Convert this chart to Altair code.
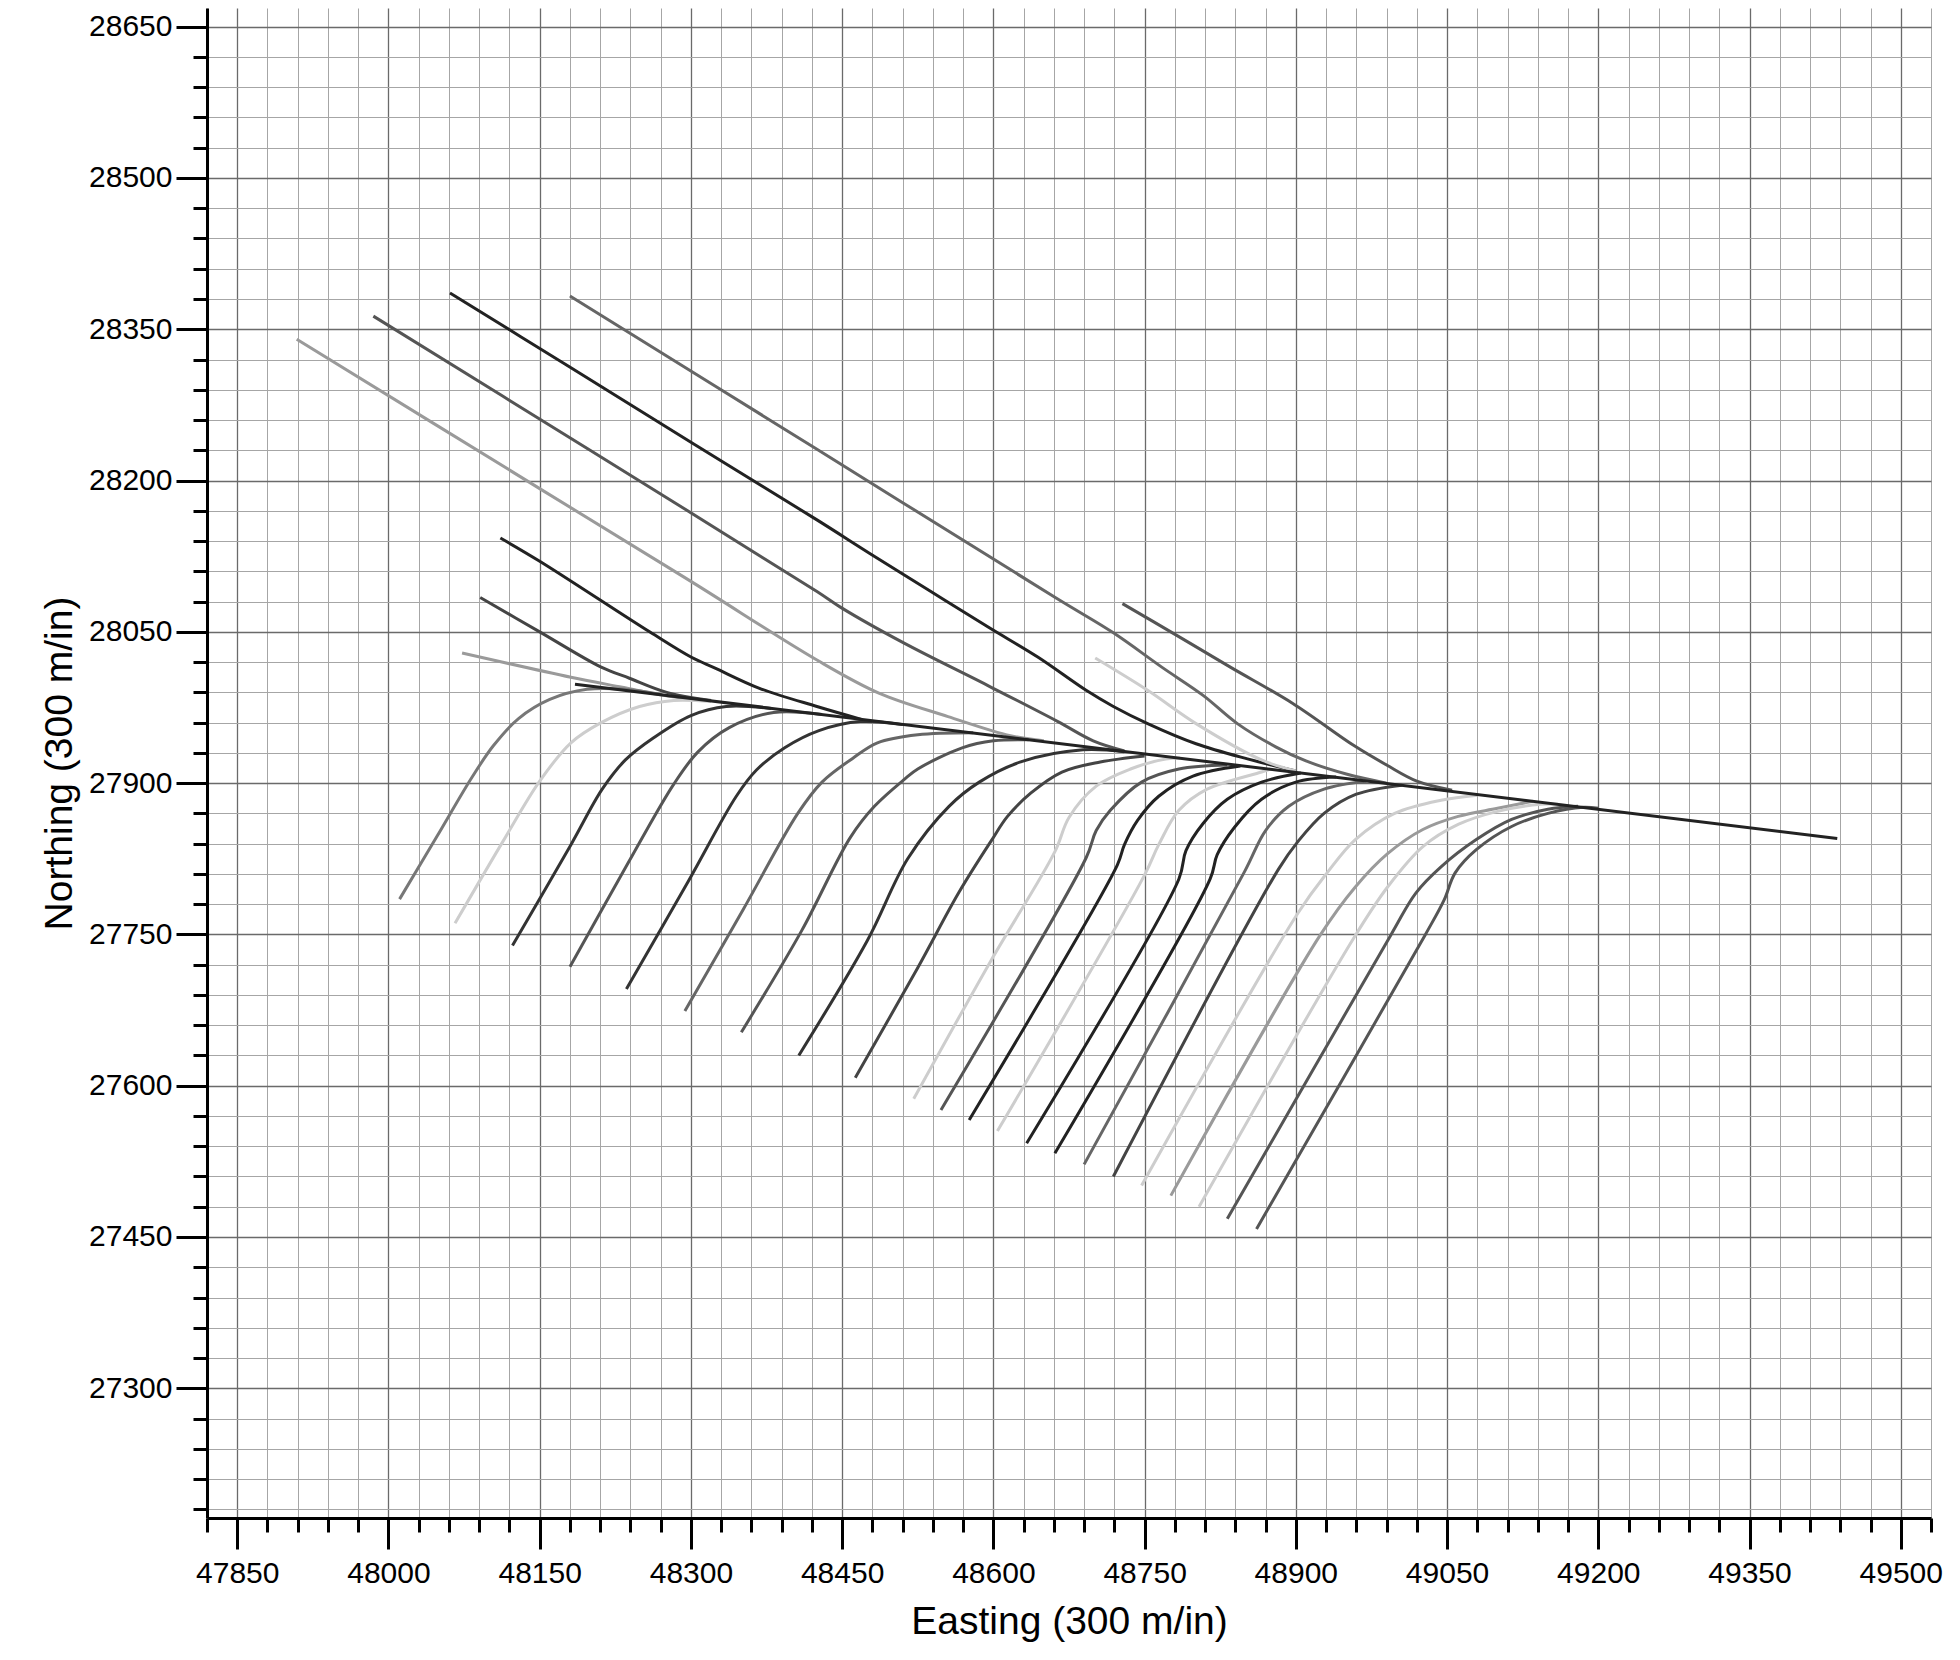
import altair as alt
import pandas as pd

# ---------------- data (Easting, Northing) read from the plan view ----------------
TRUNK = [(48185, 27998), (49437, 27845)]

NW_A = [(47909, 28340), (48150, 28192), (48300, 28100), (48425, 28022), (48487, 27989), (48555, 27966), (48617, 27947), (48650, 27942)]
NW_B = [(47985, 28363), (48200, 28230), (48425, 28090), (48449, 28074), (48511, 28039), (48596, 27996), (48664, 27961), (48699, 27942), (48730, 27932)]
NW_C = [(48061, 28386), (48179, 28313), (48300, 28238), (48425, 28161), (48477, 28128), (48538, 28090), (48596, 28054), (48644, 28025), (48692, 27992), (48719, 27976), (48753, 27959), (48801, 27939), (48852, 27924), (48900, 27912)]
NW_D = [(48180, 28383), (48425, 28231), (48663, 28083), (48719, 28049), (48767, 28015), (48808, 27987), (48842, 27959), (48880, 27936), (48910, 27922), (48950, 27909), (48990, 27900)]
NW_E = [(48728, 28078), (48781, 28047), (48835, 28015), (48897, 27979), (48958, 27937), (48990, 27918), (49020, 27902), (49055, 27893)]
NW_F = [(48701, 28024), (48753, 27992), (48801, 27959), (48866, 27923), (48900, 27912)]
NW_G = [(48111, 28143), (48150, 28120), (48259, 28050), (48300, 28025), (48324, 28014), (48368, 27994), (48425, 27976), (48470, 27963)]
NW_H = [(48091, 28084), (48150, 28050), (48211, 28015), (48239, 28004), (48276, 27990), (48320, 27982)]
NW_I = [(48073, 28029), (48181, 28005), (48232, 27995), (48273, 27987), (48300, 27983)]

SW_01 = [(48011, 27785), (48048, 27847), (48083, 27906), (48104, 27937), (48129, 27964), (48160, 27983), (48197, 27993), (48235, 27993), (48270, 27988)]
SW_02 = [(48066, 27761), (48114, 27843), (48150, 27902), (48181, 27940), (48211, 27960), (48249, 27976), (48283, 27982), (48320, 27981)]
SW_03 = [(48123, 27739), (48181, 27839), (48212, 27894), (48235, 27923), (48263, 27945), (48300, 27967), (48335, 27976), (48380, 27974)]
SW_04 = [(48180, 27718), (48235, 27816), (48283, 27899), (48307, 27931), (48338, 27955), (48382, 27970), (48430, 27968)]
SW_05 = [(48236, 27696), (48297, 27802), (48345, 27887), (48365, 27913), (48393, 27935), (48427, 27952), (48468, 27961), (48510, 27958)]
SW_06 = [(48294, 27674), (48352, 27775), (48406, 27870), (48430, 27901), (48461, 27925), (48485, 27940), (48525, 27948), (48580, 27950)]
SW_07 = [(48350, 27653), (48410, 27754), (48458, 27846), (48482, 27877), (48512, 27904), (48525, 27914), (48569, 27935), (48600, 27942), (48635, 27943)]
SW_08 = [(48407, 27630), (48475, 27744), (48515, 27825), (48556, 27877), (48586, 27901), (48627, 27921), (48689, 27933), (48730, 27931)]
SW_09 = [(48463, 27608), (48525, 27717), (48566, 27792), (48598, 27843), (48614, 27867), (48637, 27890), (48668, 27911), (48706, 27921), (48750, 27927)]
SW_10 = [(48521, 27587), (48597, 27723), (48661, 27832), (48675, 27866), (48702, 27897), (48736, 27914), (48771, 27924), (48785, 27925)]
SW_11 = [(48548, 27576), (48692, 27826), (48702, 27853), (48716, 27873), (48747, 27901), (48784, 27914), (48832, 27918)]
SW_12 = [(48576, 27566), (48723, 27819), (48730, 27839), (48743, 27863), (48764, 27887), (48798, 27907), (48845, 27917)]
SW_13 = [(48604, 27555), (48750, 27809), (48764, 27839), (48784, 27873), (48812, 27894), (48866, 27911), (48875, 27914)]
SW_14 = [(48633, 27543), (48784, 27805), (48791, 27833), (48808, 27860), (48832, 27884), (48866, 27901), (48905, 27910)]
SW_15 = [(48661, 27533), (48815, 27805), (48822, 27829), (48839, 27856), (48866, 27884), (48900, 27901), (48940, 27906)]
SW_16 = [(48690, 27522), (48849, 27812), (48870, 27853), (48893, 27877), (48928, 27894), (48970, 27902)]
SW_17 = [(48719, 27510), (48883, 27815), (48902, 27842), (48928, 27870), (48960, 27889), (49005, 27898)]
SW_18 = [(48747, 27501), (48902, 27771), (48931, 27811), (48959, 27844), (48998, 27870), (49044, 27883), (49080, 27888)]
SW_19 = [(48776, 27491), (48924, 27749), (48959, 27797), (48991, 27830), (49026, 27854), (49061, 27867), (49100, 27875), (49135, 27882)]
SW_20 = [(48804, 27480), (48959, 27749), (48991, 27797), (49026, 27837), (49061, 27859), (49100, 27872), (49143, 27879), (49160, 27879)]
SW_21 = [(48832, 27468), (48994, 27749), (49019, 27791), (49044, 27817), (49079, 27844), (49114, 27864), (49150, 27874), (49180, 27877)]
SW_22 = [(48861, 27458), (49028, 27749), (49047, 27784), (49058, 27811), (49079, 27834), (49114, 27857), (49150, 27870), (49185, 27876), (49200, 27875)]

WELL_NAMES = ["NW-A", "NW-B", "NW-C", "NW-D", "NW-E", "NW-F", "NW-G", "NW-H", "NW-I",
              "SW-01", "SW-02", "SW-03", "SW-04", "SW-05", "SW-06", "SW-07", "SW-08",
              "SW-09", "SW-10", "SW-11", "SW-12", "SW-13", "SW-14", "SW-15", "SW-16",
              "SW-17", "SW-18", "SW-19", "SW-20", "SW-21", "SW-22", "TRUNK"]
WELL_COLORS = ["#9a9a9a", "#555555", "#222222", "#666666", "#555555", "#cdcdcd", "#222222", "#444444", "#9a9a9a",
               "#777777", "#cdcdcd", "#333333", "#555555", "#333333", "#666666", "#555555", "#333333",
               "#444444", "#cdcdcd", "#555555", "#222222", "#cdcdcd", "#222222", "#222222", "#666666",
               "#444444", "#cdcdcd", "#9a9a9a", "#cdcdcd", "#555555", "#555555", "#222222"]
WELL_POINTS = [NW_A, NW_B, NW_C, NW_D, NW_E, NW_F, NW_G, NW_H, NW_I,
               SW_01, SW_02, SW_03, SW_04, SW_05, SW_06, SW_07, SW_08,
               SW_09, SW_10, SW_11, SW_12, SW_13, SW_14, SW_15, SW_16,
               SW_17, SW_18, SW_19, SW_20, SW_21, SW_22, TRUNK]

X_TICKS = list(range(47820, 49531, 30))
Y_TICKS = list(range(27180, 28651, 30))
X_DOMAIN = [47820, 49530]
Y_DOMAIN = [27171.4, 28668.5]

rows = []
for name, pts in zip(WELL_NAMES, WELL_POINTS):
    for i, (e, n) in enumerate(pts):
        rows.append({"well": name, "seq": i, "E": e, "N": n})
df = pd.DataFrame(rows)

MAJOR = "datum.value % 150 === 0"
FONT = "Liberation Sans"


def axis_props(**extra):
    p = dict(
        format="d",
        labelExpr=MAJOR + " ? datum.label : ''",
        labelFont=FONT,
        labelFontSize=30,
        labelColor="black",
        labelOverlap=False,
        labelFlush=False,
        labelBound=False,
        domainColor="black",
        domainWidth=3,
        tickColor="black",
        tickWidth=3,
        tickSize={"condition": {"test": MAJOR, "value": 31}, "value": 14},
        grid=True,
        gridColor={"condition": {"test": MAJOR, "value": "#6a6a6a"}, "value": "#a6a6a6"},
        gridWidth={"condition": {"test": MAJOR, "value": 1.3}, "value": 1.0},
        titleFont=FONT,
        titleFontSize=39,
        titleFontWeight="normal",
        titleColor="black",
    )
    p.update(extra)
    return p


x_axis = alt.Axis(
    values=X_TICKS,
    labelPadding=9,
    title="Easting (300 m/in)",
    titleX=862,
    titleY=115,
    titleAlign="center",
    titleBaseline="alphabetic",
    **axis_props(),
)
y_axis = alt.Axis(
    values=Y_TICKS,
    labelPadding=4,
    title="Northing (300 m/in)",
    titleX=-136,
    titleY=755,
    titleAngle=270,
    titleAlign="center",
    titleBaseline="alphabetic",
    **axis_props(),
)

chart = (
    alt.Chart(df)
    .mark_line(interpolate="catmull-rom", strokeWidth=3, strokeCap="butt", strokeJoin="round")
    .encode(
        x=alt.X("E:Q", scale=alt.Scale(domain=X_DOMAIN, nice=False, zero=False), axis=x_axis),
        y=alt.Y("N:Q", scale=alt.Scale(domain=Y_DOMAIN, nice=False, zero=False), axis=y_axis),
        color=alt.Color("well:N", scale=alt.Scale(domain=WELL_NAMES, range=WELL_COLORS), legend=None),
        detail="well:N",
        order="seq:Q",
    )
    .properties(
        width=1724,
        height=1510,
        autosize=alt.AutoSizeParams(type="none"),
        padding={"left": 199, "top": 0, "right": 20, "bottom": 130},
        background="white",
    )
    .configure_view(stroke=None)
)

chart.save("out.html", embed_options={"renderer": "svg", "actions": False})
